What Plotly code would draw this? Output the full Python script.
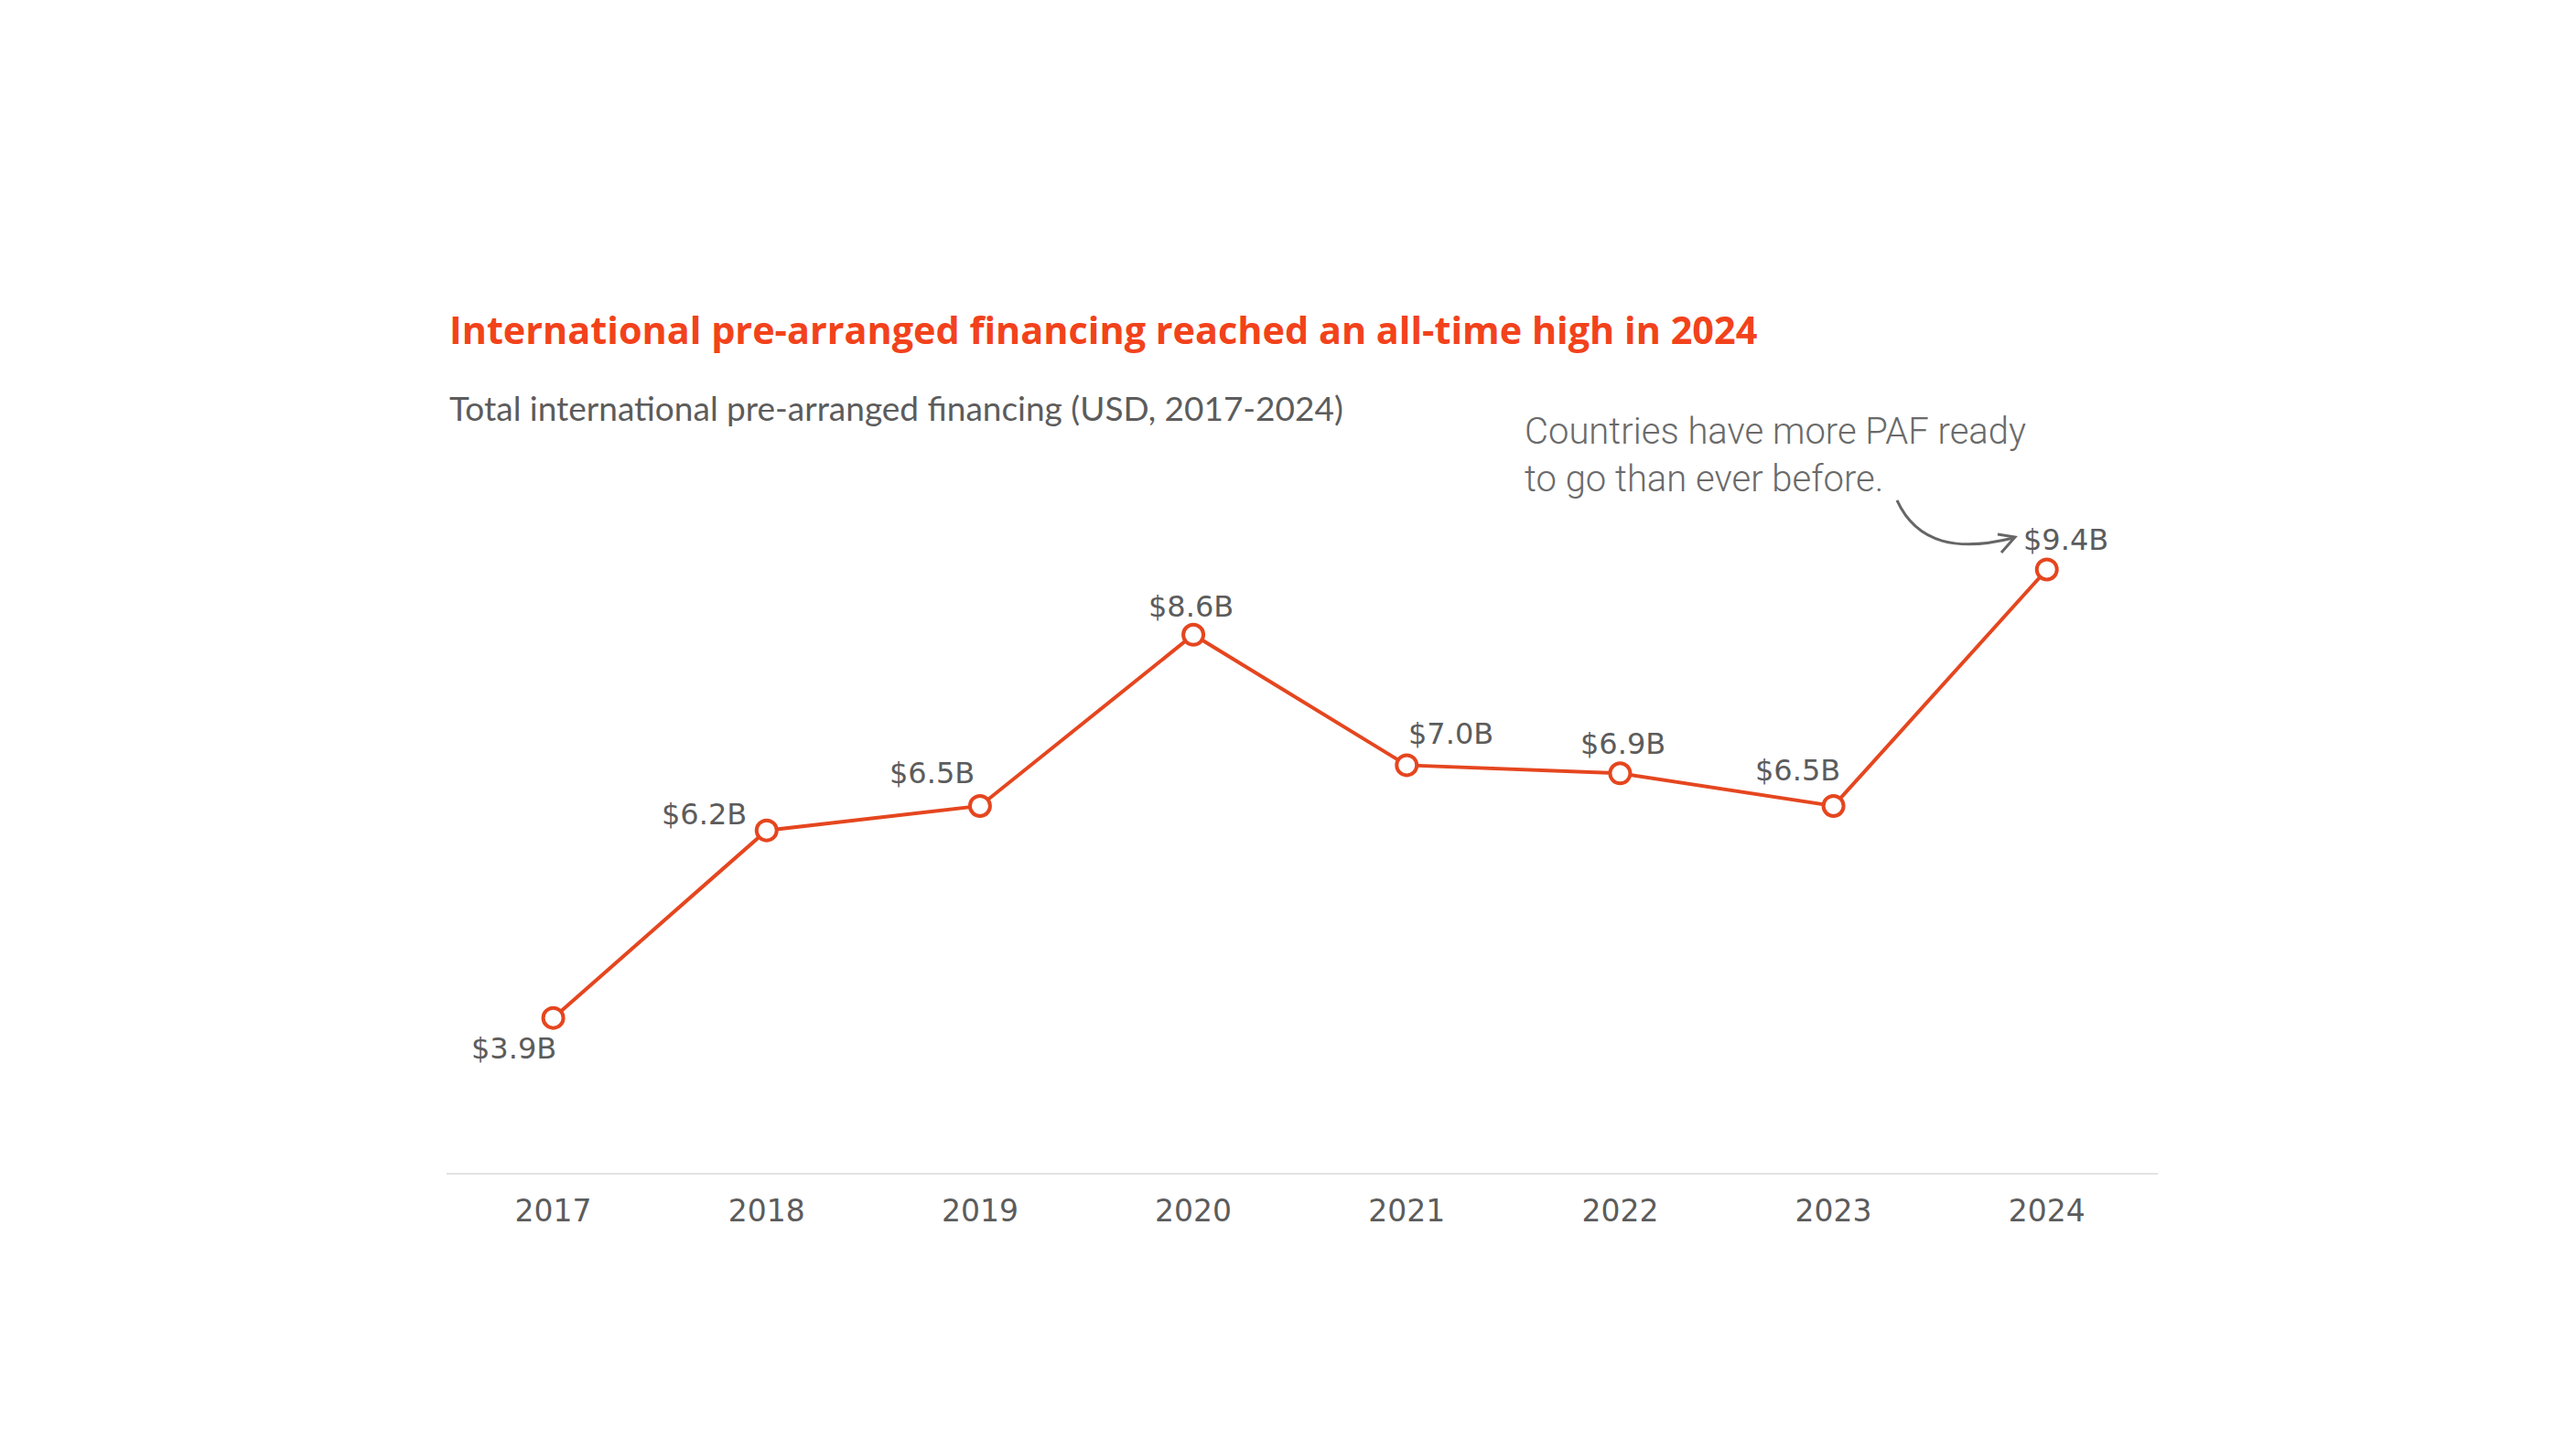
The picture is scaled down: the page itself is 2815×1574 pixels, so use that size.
import plotly.graph_objects as go

# ---- data ----
years = [2017, 2018, 2019, 2020, 2021, 2022, 2023, 2024]
values = [3.9, 6.2, 6.5, 8.6, 7.0, 6.9, 6.5, 9.4]
value_labels = ["$3.9B", "$6.2B", "$6.5B", "$8.6B", "$7.0B", "$6.9B", "$6.5B", "$9.4B"]
tick_labels = ["2017", "2018", "2019", "2020", "2021", "2022", "2023", "2024"]

title_text = "International pre-arranged financing reached an all-time high in 2024"
subtitle_text = "Total international pre-arranged financing (USD, 2017-2024)"
note_text = "Countries have more PAF ready<br>to go than ever before."

# ---- style ----
OFF = 8  # default page body margin
W, H = 2815 - 2 * OFF, 1574 - 2 * OFF
L, R, T, B = 488 - OFF, W - (2358 - OFF), 569 - OFF, H - (1282 - OFF)
RED = "#E5461F"
TITLE_RED = "#F2421B"
GREY = "#5c5c5c"
label_offsets = [(-43, -33), (-68, 18), (-52, 36), (-3, 31), (48, 34), (3, 32), (-39, 39), (21, 32)]

pw = W - L - R
ph = H - T - B


def X(px):
    return (px - OFF - L) / pw


def Y(py):
    return (H - B - (py - OFF)) / ph


fig = go.Figure()
fig.add_trace(go.Scatter(
    x=years, y=values, mode="lines+markers",
    line=dict(color=RED, width=4),
    marker=dict(symbol="circle", size=22, color="white", line=dict(color=RED, width=4)),
    hoverinfo="skip", cliponaxis=False,
))

annotations = []
for yr, v, txt, (dx, dy) in zip(years, values, value_labels, label_offsets):
    annotations.append(dict(
        x=yr, y=v, xref="x", yref="y", text=txt, showarrow=False,
        xshift=dx, yshift=dy, xanchor="center", yanchor="middle",
        font=dict(family="DejaVu Sans", size=32, color=GREY),
    ))

annotations.append(dict(
    x=X(489), y=Y(360), xref="paper", yref="paper", text=title_text,
    showarrow=False, xanchor="left", yanchor="middle",
    font=dict(family="Open Sans", size=41.4, color=TITLE_RED, weight=700),
))
annotations.append(dict(
    x=X(489), y=Y(446), xref="paper", yref="paper", text=subtitle_text,
    showarrow=False, xanchor="left", yanchor="middle",
    font=dict(family="Lato", size=37, color=GREY),
))
annotations.append(dict(
    x=X(1664), y=Y(497), xref="paper", yref="paper", text=note_text,
    showarrow=False, xanchor="left", yanchor="middle", align="left",
    font=dict(family="Roboto", size=40, color="#6a6a6a", weight=300),
))


def P(px, py):
    return f"{X(px):.5f},{Y(py):.5f}"


shapes = [
    dict(type="path", xref="paper", yref="paper",
         path=f"M {P(2073, 547)} C {P(2095, 595)} {P(2140, 603)} {P(2200, 588)}",
         line=dict(color="#666666", width=3)),
    dict(type="path", xref="paper", yref="paper",
         path=f"M {P(2183, 584)} L {P(2202, 587)} L {P(2187, 604)}",
         line=dict(color="#666666", width=3)),
]

fig.update_layout(
    width=W, height=H,
    margin=dict(l=L, r=R, t=T, b=B, autoexpand=False),
    paper_bgcolor="white", plot_bgcolor="white",
    showlegend=False,
    annotations=annotations,
    shapes=shapes,
    xaxis=dict(
        range=[2016.5, 2024.52], tickmode="array", tickvals=years, ticktext=tick_labels,
        showgrid=False, zeroline=False, showline=True, linecolor="#e3e3e3", linewidth=2,
        ticks="", tickfont=dict(family="DejaVu Sans", size=33, color=GREY),
        ticklabelstandoff=11,
    ),
    yaxis=dict(range=[2, 10], visible=False, showgrid=False, zeroline=False),
)

fig.write_html("out.html")
